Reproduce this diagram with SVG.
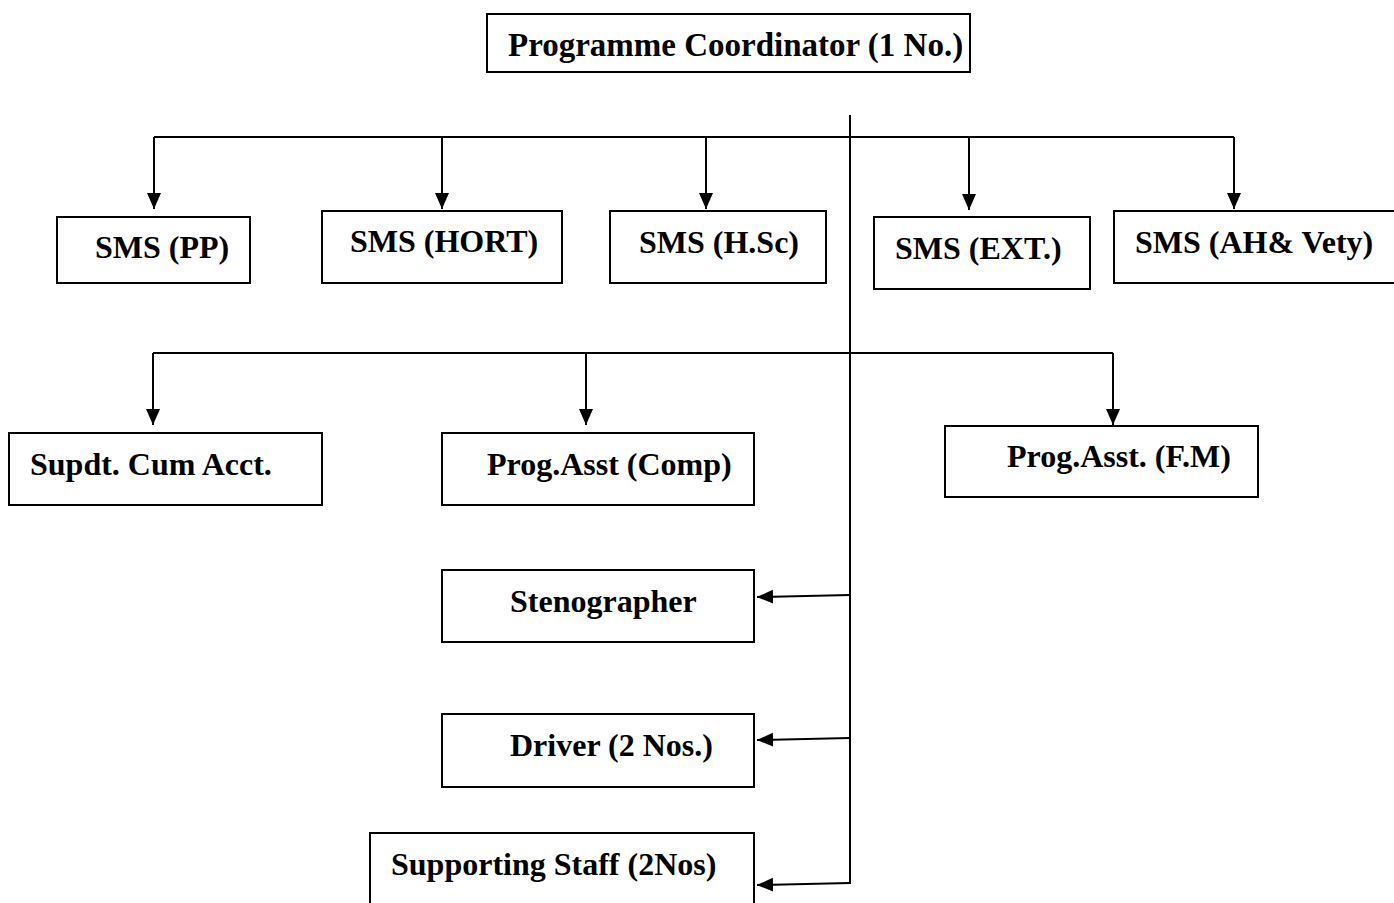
<svg xmlns="http://www.w3.org/2000/svg" width="1394" height="903" viewBox="0 0 1394 903">
  <style>
    .box { fill: #fff; stroke: #000; stroke-width: 2; }
    .lbl { font-family: "Liberation Serif", "Times New Roman", serif; font-weight: bold; font-size: 32px; fill: #000; }
    .conn { fill: none; stroke: #000; stroke-width: 2; }
  </style>
  <defs>
    <marker id="arrow" markerUnits="userSpaceOnUse" markerWidth="18" markerHeight="16" refX="16" refY="7" orient="auto">
      <path d="M0,0 L16,7 L0,14 Z" fill="#000"/>
    </marker>
  </defs>
  <rect width="1394" height="903" fill="#fff"/>

  <!-- connectors -->
  <g id="connectors">
    <line class="conn" x1="850" y1="115" x2="850" y2="884"/>
    <polyline class="conn" points="154,137 1234,137"/>
    <line class="conn" x1="154" y1="137" x2="154" y2="209" marker-end="url(#arrow)"/>
    <line class="conn" x1="442" y1="137" x2="442" y2="209" marker-end="url(#arrow)"/>
    <line class="conn" x1="706" y1="137" x2="706" y2="209" marker-end="url(#arrow)"/>
    <line class="conn" x1="969" y1="137" x2="969" y2="210" marker-end="url(#arrow)"/>
    <line class="conn" x1="1234" y1="137" x2="1234" y2="209" marker-end="url(#arrow)"/>
    <polyline class="conn" points="153,353 1113,353"/>
    <line class="conn" x1="153" y1="353" x2="153" y2="425" marker-end="url(#arrow)"/>
    <line class="conn" x1="586" y1="353" x2="586" y2="425" marker-end="url(#arrow)"/>
    <line class="conn" x1="1113" y1="353" x2="1113" y2="425" marker-end="url(#arrow)"/>
    <line class="conn" x1="850" y1="595" x2="757" y2="597" marker-end="url(#arrow)"/>
    <line class="conn" x1="850" y1="738" x2="757" y2="740" marker-end="url(#arrow)"/>
    <line class="conn" x1="850" y1="883" x2="757" y2="885" marker-end="url(#arrow)"/>
  </g>

  <g id="coordinator">
    <rect class="box" x="487" y="14" width="483" height="58"/>
    <text class="lbl" x="508" y="56" style="font-size:33px">Programme Coordinator (1 No.)</text>
  </g>

  <g id="sms-pp">
    <rect class="box" x="57" y="217" width="193" height="66"/>
    <text class="lbl" x="95" y="258">SMS (PP)</text>
  </g>
  <g id="sms-hort">
    <rect class="box" x="322" y="211" width="240" height="72"/>
    <text class="lbl" x="350" y="252">SMS (HORT)</text>
  </g>
  <g id="sms-hsc">
    <rect class="box" x="610" y="211" width="216" height="72"/>
    <text class="lbl" x="639" y="253">SMS (H.Sc)</text>
  </g>
  <g id="sms-ext">
    <rect class="box" x="874" y="217" width="216" height="72"/>
    <text class="lbl" x="895" y="259">SMS (EXT.)</text>
  </g>
  <g id="sms-ah">
    <rect class="box" x="1114" y="211" width="290" height="72"/>
    <text class="lbl" x="1135" y="253">SMS (AH&amp; Vety)</text>
  </g>

  <g id="supdt">
    <rect class="box" x="9" y="433" width="313" height="72"/>
    <text class="lbl" x="30" y="475">Supdt. Cum Acct.</text>
  </g>
  <g id="prog-asst-comp">
    <rect class="box" x="442" y="433" width="312" height="72"/>
    <text class="lbl" x="487" y="475">Prog.Asst (Comp)</text>
  </g>
  <g id="prog-asst-fm">
    <rect class="box" x="945" y="426" width="313" height="71"/>
    <text class="lbl" x="1007" y="467">Prog.Asst. (F.M)</text>
  </g>

  <g id="stenographer">
    <rect class="box" x="442" y="570" width="312" height="72"/>
    <text class="lbl" x="510" y="612">Stenographer</text>
  </g>
  <g id="driver">
    <rect class="box" x="442" y="714" width="312" height="73"/>
    <text class="lbl" x="510" y="756">Driver (2 Nos.)</text>
  </g>
  <g id="supporting-staff">
    <rect class="box" x="370" y="833" width="384" height="90"/>
    <text class="lbl" x="391" y="875">Supporting Staff (2Nos)</text>
  </g>
</svg>
